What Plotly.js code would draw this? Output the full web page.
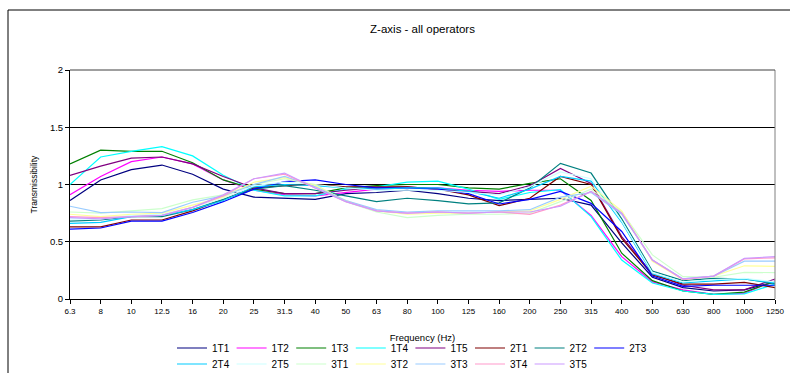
<!DOCTYPE html>
<html>
<head>
<meta charset="utf-8">
<script src="https://cdn.plot.ly/plotly-3.0.1.min.js"></script>
<style>
html,body{margin:0;padding:0;background:#fff;}
#chart{width:790px;height:373px;}
</style>
</head>
<body>
<div id="chart"></div>
<script>
const categories = ["6.3","8","10","12.5","16","20","25","31.5","40","50","63","80","100","125","160","200","250","315","400","500","630","800","1000","1250"];

const s1T1 = [0.86,1.04,1.13,1.17,1.09,0.96,0.89,0.88,0.87,0.92,0.93,0.95,0.92,0.88,0.86,0.87,0.88,0.82,0.49,0.19,0.10,0.07,0.08,0.15];
const s1T2 = [0.91,1.07,1.20,1.24,1.18,1.04,0.95,0.91,0.90,0.93,0.96,0.97,0.97,0.95,0.94,0.95,0.95,0.73,0.37,0.15,0.08,0.04,0.05,0.16];
const s1T3 = [1.18,1.30,1.29,1.29,1.19,1.04,0.96,0.92,0.92,0.97,0.99,1.00,1.00,0.97,0.96,1.01,1.05,0.86,0.40,0.16,0.07,0.04,0.06,0.155];
const s1T4 = [1.00,1.24,1.29,1.33,1.25,1.08,0.95,0.90,0.90,0.96,0.98,1.02,1.03,0.96,0.87,0.93,0.955,0.72,0.34,0.14,0.07,0.04,0.045,0.13];
const s1T5 = [1.08,1.16,1.23,1.24,1.18,1.07,0.97,0.92,0.92,0.95,0.97,0.98,0.96,0.94,0.92,0.99,1.14,1.01,0.545,0.22,0.12,0.08,0.08,0.175];
const s2T1 = [0.63,0.63,0.69,0.69,0.77,0.87,0.97,0.99,1.00,0.98,0.98,0.98,0.96,0.91,0.815,0.88,1.07,1.00,0.53,0.21,0.13,0.13,0.145,0.10];
const s2T2 = [0.68,0.69,0.72,0.72,0.78,0.87,0.96,0.99,0.95,0.90,0.85,0.88,0.86,0.83,0.84,0.97,1.185,1.10,0.70,0.245,0.16,0.18,0.175,0.135];
const s2T3 = [0.61,0.62,0.68,0.68,0.755,0.85,0.96,1.025,1.04,1.00,0.97,0.97,0.96,0.92,0.83,0.87,0.94,0.835,0.59,0.20,0.11,0.12,0.12,0.12];
const s2T4 = [0.66,0.67,0.72,0.73,0.78,0.86,0.98,1.00,0.99,0.97,0.96,0.97,0.97,0.94,0.88,0.96,1.07,1.03,0.67,0.22,0.14,0.16,0.175,0.14];
const s2T5 = [0.70,0.70,0.73,0.74,0.80,0.88,0.99,1.02,1.00,0.97,0.95,0.95,0.95,0.93,0.91,0.98,1.11,1.05,0.68,0.23,0.15,0.17,0.18,0.15];
const s3T1 = [0.76,0.75,0.77,0.79,0.865,0.91,1.00,1.05,1.00,0.85,0.76,0.71,0.73,0.74,0.74,0.75,0.85,0.96,0.76,0.385,0.195,0.19,0.233,0.23];
const s3T2 = [0.74,0.72,0.74,0.75,0.82,0.89,1.02,1.06,0.99,0.86,0.77,0.74,0.75,0.75,0.76,0.77,0.87,0.985,0.77,0.33,0.17,0.20,0.29,0.285];
const s3T3 = [0.81,0.755,0.76,0.755,0.845,0.90,1.00,1.07,0.98,0.86,0.78,0.76,0.77,0.77,0.77,0.78,0.89,0.93,0.74,0.34,0.175,0.20,0.33,0.33];
const s3T4 = [0.72,0.71,0.72,0.73,0.80,0.90,1.05,1.09,0.97,0.85,0.77,0.75,0.76,0.75,0.76,0.74,0.82,0.94,0.75,0.34,0.17,0.20,0.35,0.36];
const s3T5 = [0.71,0.70,0.72,0.73,0.80,0.91,1.05,1.10,0.97,0.85,0.77,0.75,0.76,0.75,0.76,0.76,0.81,0.94,0.75,0.34,0.175,0.20,0.355,0.37];

const seriesNames = ["1T1","1T2","1T3","1T4","1T5","2T1","2T2","2T3","2T4","2T5","3T1","3T2","3T3","3T4","3T5"];
const seriesValues = [s1T1,s1T2,s1T3,s1T4,s1T5,s2T1,s2T2,s2T3,s2T4,s2T5,s3T1,s3T2,s3T3,s3T4,s3T5];
const seriesColors = ["#000080","#FF00FF","#008000","#00FFFF","#800080","#800000","#008080","#0000FF",
                      "#00CCFF","#CCFFFF","#CCFFCC","#FFFF99","#99CCFF","#FF99CC","#CC99FF"];

const traces = seriesNames.map((n,i)=>({
  type:'scatter', mode:'lines', name:n, x:categories, y:seriesValues[i],
  line:{color:seriesColors[i], width:1.2},
  legend: i < 8 ? 'legend' : 'legend2',
  hoverinfo:'skip'
}));

const font = "Liberation Sans, Arial, sans-serif";
const L = 70, R = 15, T = 70, B = 74;
const W = 790, H = 373;
const pw = W - L - R, ph = H - T - B;
const px = x => (x - L) / pw;
const py = y => (H - B - y) / ph;

const legendCommon = {orientation:'h', xanchor:'left', yanchor:'middle',
  entrywidth:14.6, entrywidthmode:'pixels', itemwidth:30,
  font:{size:10, family:font}, bgcolor:'rgba(0,0,0,0)', tracegroupgap:0};

const layout = {
  width: W, height: H,
  margin:{l:L, r:R, t:T, b:B, pad:0, autoexpand:false},
  paper_bgcolor:'#fff', plot_bgcolor:'#fff',
  font:{family:font, color:'#000'},
  title:{text:'Z-axis - all operators', font:{size:11.5, family:font, color:'#000'}, x:0.5, xref:'paper', xanchor:'center', y:1-29/H, yanchor:'middle'},
  showlegend:true,
  xaxis:{
    type:'category', range:[0,23], autorange:false, automargin:false,
    showline:true, linecolor:'#000', linewidth:1,
    ticks:'outside', ticklen:4, tickcolor:'#000',
    tickfont:{size:8, family:font}, showgrid:false, zeroline:false,
    title:{text:'Frequency (Hz)', font:{size:9.5, family:font}, standoff:19}
  },
  yaxis:{
    range:[0,2], autorange:false, automargin:false, tickvals:[0,0.5,1,1.5,2], ticktext:['0','0.5','1','1.5','2'],
    showline:true, linecolor:'#000', linewidth:1,
    ticks:'outside', ticklen:4, tickcolor:'#000',
    tickfont:{size:9.5, family:font},
    showgrid:true, gridcolor:'#000', gridwidth:1, zeroline:false,
    title:{text:'Transmissibility', font:{size:8.5, family:font}, standoff:10}
  },
  legend:Object.assign({x:px(172), y:py(348)}, legendCommon),
  legend2:Object.assign({x:px(172), y:py(364)}, legendCommon),
  shapes:[
    {type:'rect', xref:'paper', yref:'paper', x0:px(8), x1:px(800), y0:py(380), y1:py(10),
     line:{color:'#000', width:1}, fillcolor:'rgba(0,0,0,0)', layer:'below'},
    {type:'line', xref:'paper', yref:'paper', x0:1, x1:1, y0:0, y1:1, line:{color:'#808080', width:1}},
    {type:'line', xref:'paper', yref:'paper', x0:0, x1:1, y0:1, y1:1, line:{color:'#404040', width:1}}
  ]
};

Plotly.newPlot('chart', traces, layout, {staticPlot:true, displayModeBar:false});
</script>
</body>
</html>
